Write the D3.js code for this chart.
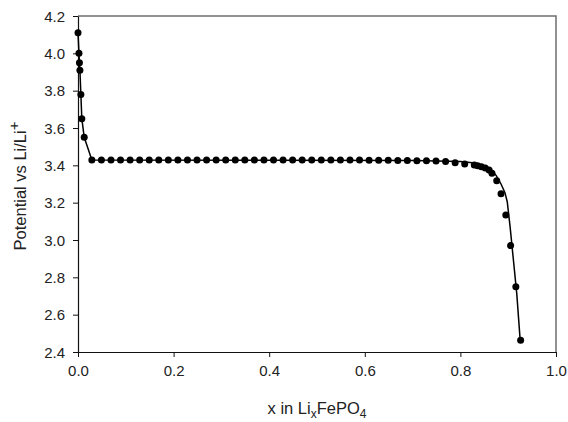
<!DOCTYPE html>
<html>
<head>
<meta charset="utf-8">
<script src="https://cdn.jsdelivr.net/npm/d3@7"></script>
<style>
  body { margin: 0; background: #fff; }
  text { font-family: "Liberation Sans", Arial, sans-serif; fill: #222; }
</style>
</head>
<body>
<div id="chart"></div>
<script>
// measured points (x in LixFePO4, potential V)
var pointX = [0.000, 0.002, 0.003, 0.004, 0.006, 0.008, 0.013,
  0.029, 0.049, 0.069, 0.089, 0.109, 0.129, 0.149, 0.169, 0.189, 0.209,
  0.229, 0.249, 0.269, 0.289, 0.309, 0.329, 0.349, 0.369, 0.389, 0.409,
  0.429, 0.449, 0.469, 0.489, 0.509, 0.529, 0.549, 0.569, 0.589, 0.609,
  0.629, 0.649, 0.669, 0.689, 0.709, 0.729, 0.749, 0.769, 0.789, 0.809,
  0.829, 0.836, 0.844, 0.852, 0.860, 0.866, 0.876, 0.885, 0.895, 0.905,
  0.916, 0.926];
var pointV = [4.11, 4.00, 3.95, 3.91, 3.78, 3.65, 3.55,
  3.428, 3.428, 3.428, 3.428, 3.428, 3.428, 3.428, 3.428, 3.428, 3.428,
  3.428, 3.428, 3.428, 3.428, 3.428, 3.428, 3.428, 3.428, 3.428, 3.428,
  3.428, 3.428, 3.428, 3.428, 3.428, 3.428, 3.428, 3.428, 3.428, 3.427,
  3.427, 3.427, 3.426, 3.426, 3.425, 3.424, 3.423, 3.420, 3.414, 3.407,
  3.402, 3.398, 3.393, 3.386, 3.375, 3.357, 3.318, 3.248, 3.134, 2.970,
  2.749, 2.463];

// model curve
var lineX = [0.000, 0.002, 0.003, 0.004, 0.006, 0.008, 0.013, 0.029,
  0.400, 0.700, 0.800, 0.830, 0.850, 0.865, 0.875, 0.885, 0.893, 0.898,
  0.904, 0.911, 0.918, 0.925];
var lineV = [4.11, 4.00, 3.95, 3.91, 3.78, 3.65, 3.55, 3.428,
  3.427, 3.426, 3.420, 3.412, 3.398, 3.375, 3.345, 3.300, 3.255, 3.205,
  3.070, 2.890, 2.710, 2.465];

var xTicks = [0.0, 0.2, 0.4, 0.6, 0.8, 1.0];
var yTicks = [2.4, 2.6, 2.8, 3.0, 3.2, 3.4, 3.6, 3.8, 4.0, 4.2];

function init(){
  var w = 568, h = 422;
  var left = 78, right = 556, top = 16, bottom = 352;

  var svg = d3.select("#chart")
    .append("svg")
    .attr("width", w)
    .attr("height", h);

  var x = d3.scaleLinear().domain([0, 1]).range([left, right]);
  var y = d3.scaleLinear().domain([2.4, 4.2]).range([bottom, top]);

  // top and right frame
  svg.append("path")
    .attr("d", "M" + left + "," + top + "H" + right + "V" + bottom)
    .attr("fill", "none")
    .attr("stroke", "#6d6d6d")
    .attr("stroke-width", 1.5);

  var xAxis = svg.append("g")
    .attr("transform", "translate(0," + bottom + ")")
    .call(d3.axisBottom(x).tickValues(xTicks).tickFormat(d3.format(".1f"))
      .tickSizeInner(5).tickSizeOuter(0).tickPadding(8));
  var yAxis = svg.append("g")
    .attr("transform", "translate(" + left + ",0)")
    .call(d3.axisLeft(y).tickValues(yTicks).tickFormat(d3.format(".1f"))
      .tickSizeInner(5).tickSizeOuter(0).tickPadding(8));

  [xAxis, yAxis].forEach(function(a){
    a.select(".domain").attr("stroke", "#111").attr("stroke-width", 1.2);
    a.selectAll(".tick line").attr("stroke", "#111");
    a.selectAll("text")
      .style("font-family", "'Liberation Sans', Arial, sans-serif")
      .style("font-size", "15px")
      .attr("fill", "#222");
  });
  yAxis.selectAll(".tick text").attr("dy", "0.35em");

  // model line
  var line = d3.line()
    .x(function(d, i){ return x(lineX[i]); })
    .y(function(d, i){ return y(lineV[i]); });
  svg.append("path")
    .datum(lineX)
    .attr("d", line)
    .attr("fill", "none")
    .attr("stroke", "#000")
    .attr("stroke-width", 1.5);

  // measured dots
  svg.selectAll("circle")
    .data(pointX)
    .enter()
    .append("circle")
    .attr("cx", function(d){ return x(d); })
    .attr("cy", function(d, i){ return y(pointV[i]); })
    .attr("r", 3.5)
    .attr("fill", "#000");

  // axis titles
  var xt = svg.append("text")
    .attr("x", (left + right) / 2)
    .attr("y", 414)
    .attr("text-anchor", "middle")
    .style("font-size", "16.5px");
  xt.append("tspan").text("x in Li");
  xt.append("tspan").attr("dy", "4").style("font-size", "12px").text("x");
  xt.append("tspan").attr("dy", "-4").text("FePO");
  xt.append("tspan").attr("dy", "4").style("font-size", "12px").text("4");

  var yt = svg.append("text")
    .attr("transform", "translate(26," + ((top + bottom) / 2 + 2) + ") rotate(-90)")
    .attr("text-anchor", "middle")
    .style("font-size", "16.5px");
  yt.append("tspan").text("Potential vs Li/Li");
  yt.append("tspan").attr("dy", "-7").style("font-size", "15px").text("+");
}
window.onload = init;
</script>
</body>
</html>
